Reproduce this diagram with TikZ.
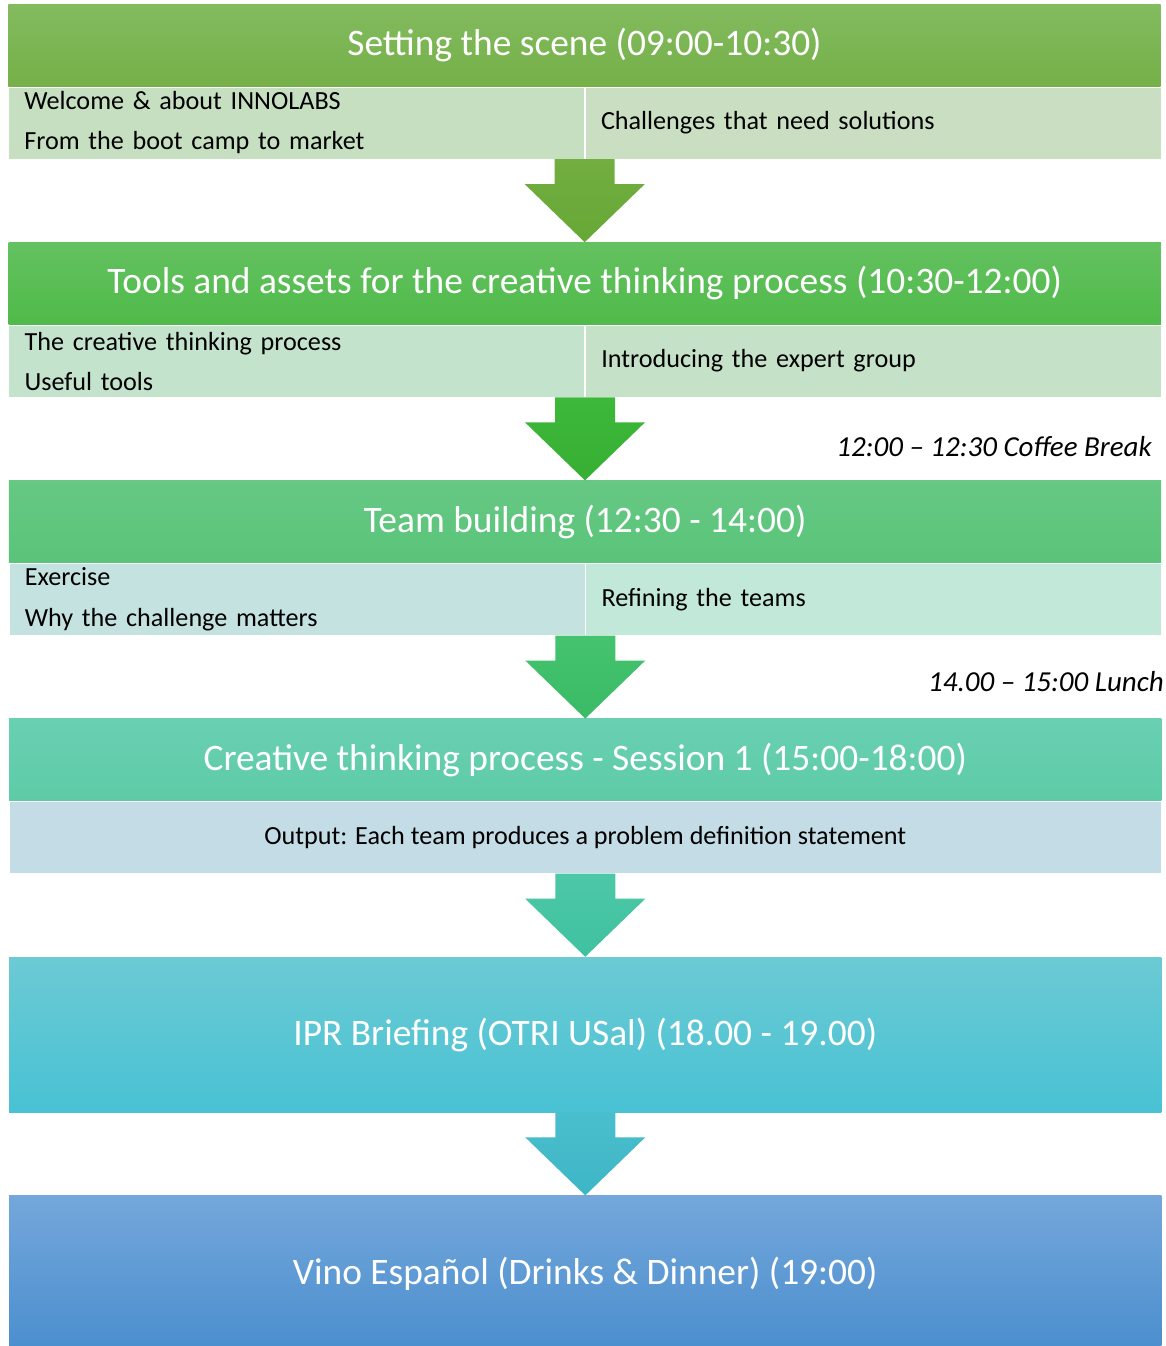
\documentclass[tikz,border=0pt]{standalone}
\usepackage{fontspec}
\setmainfont{Carlito}
\usetikzlibrary{positioning, calc}
\definecolor{sceneTop}{HTML}{83BB5F}
\definecolor{sceneBot}{HTML}{75B048}
\definecolor{toolsTop}{HTML}{64C160}
\definecolor{toolsBot}{HTML}{4FBB4A}
\definecolor{teamTop}{HTML}{66C883}
\definecolor{teamBot}{HTML}{5AC47A}
\definecolor{sessTop}{HTML}{69D0B2}
\definecolor{sessBot}{HTML}{5ECBA6}
\definecolor{iprTop}{HTML}{6CCAD4}
\definecolor{iprBot}{HTML}{48C2D4}
\definecolor{vinoTop}{HTML}{74A7DB}
\definecolor{vinoBot}{HTML}{4A8ECE}
\definecolor{cellA}{HTML}{C5DFC0}
\definecolor{cellB}{HTML}{CADFC2}
\definecolor{cellC}{HTML}{C3E3CC}
\definecolor{cellD}{HTML}{C5E1C7}
\definecolor{cellE}{HTML}{C3E2E0}
\definecolor{cellF}{HTML}{C2E8DA}
\definecolor{cellG}{HTML}{C4DCE6}
\definecolor{arrA}{HTML}{72AE40}
\definecolor{arrAb}{HTML}{66A836}
\definecolor{arrB}{HTML}{3EB83B}
\definecolor{arrBb}{HTML}{36AF33}
\definecolor{arrC}{HTML}{45C36F}
\definecolor{arrCb}{HTML}{3BBB66}
\definecolor{arrD}{HTML}{4DC8A7}
\definecolor{arrDb}{HTML}{3FC19F}
\definecolor{arrE}{HTML}{4ABECC}
\definecolor{arrEb}{HTML}{3EB6C6}

% block arrow from a point on a row bottom to the next header
\newcommand{\blockarrow}[4]{%
  \shade[top color=#3, bottom color=#4]
    ($(#1)+(-30,0)$) -- ($(#1)+(-30,25)$) -- ($(#1)+(-60,25)$) -- (#2.north)
    -- ($(#1)+(60,25)$) -- ($(#1)+(30,25)$) -- ($(#1)+(30,0)$) -- cycle;}

\begin{document}
\begin{tikzpicture}[
  x=0.025cm, y=-0.025cm,
  head/.style 2 args={rectangle, top color=#1, bottom color=#2, minimum width=28.8cm, minimum height=2.05cm, inner sep=0pt, text=white, font=\fontsize{26.6}{30}\selectfont},
  cell/.style={rectangle, fill=#1, draw=white, line width=0.4pt, minimum width=14.4cm, minimum height=1.8cm, text width=13.6cm, inner xsep=0.4cm, inner ysep=0pt, align=left, font=\fontsize{18.6}{28.5}\selectfont},
  wide/.style={rectangle, fill=#1, draw=white, line width=0.4pt, minimum width=28.8cm, minimum height=1.8cm, inner sep=0pt, font=\fontsize{18.6}{22}\selectfont},
  pause/.style={font=\fontsize{20.6}{24}\selectfont\itshape, inner sep=0pt}
]
  \useasboundingbox (0,0) rectangle (1165,1346);

  % Setting the scene
  \node[head={sceneTop}{sceneBot}, anchor=north west] (scene) at (8,4) {Setting the scene (09:00-10:30)};
  \node[cell=cellA, below right=0pt and 0pt of scene.south west] (sceneL) {Welcome \& about INNOLABS\\From the boot camp to market};
  \node[cell=cellB, right=0pt of sceneL] (sceneR) {Challenges that need solutions};

  % Tools and assets
  \node[head={toolsTop}{toolsBot}, below=2.075cm of sceneL.south east] (tools) {Tools and assets for the creative thinking process (10:30-12:00)};
  \node[cell=cellC, below right=0pt and 0pt of tools.south west] (toolsL) {The creative thinking process\\Useful tools};
  \node[cell=cellD, right=0pt of toolsL] (toolsR) {Introducing the expert group};

  % Team building
  \node[head={teamTop}{teamBot}, below=2.075cm of toolsL.south east] (team) {Team building (12:30 - 14:00)};
  \node[cell=cellE, below right=0pt and 0pt of team.south west] (teamL) {Exercise\\Why the challenge matters};
  \node[cell=cellF, right=0pt of teamL] (teamR) {Refining the teams};

  % Session 1
  \node[head={sessTop}{sessBot}, below=2.075cm of teamL.south east] (sess) {Creative thinking process - Session 1 (15:00-18:00)};
  \node[wide=cellG, below=0pt of sess] (output) {Output: Each team produces a problem definition statement};

  % IPR briefing and dinner
  \node[head={iprTop}{iprBot}, minimum height=3.875cm, below=2.075cm of output] (ipr) {IPR Briefing (OTRI USal) (18.00 - 19.00)};
  \node[head={vinoTop}{vinoBot}, minimum height=3.9cm, below=2.075cm of ipr] (vino) {Vino Español (Drinks \& Dinner) (19:00)};

  % Breaks
  \node[pause, anchor=east] (coffee) at (1152,447) {12:00 – 12:30 Coffee Break};
  \node[pause, anchor=east] (lunch) at (1164,682) {14.00 – 15:00 Lunch};

  % Block arrows
  \blockarrow{sceneL.south east}{tools}{arrA}{arrAb}
  \blockarrow{toolsL.south east}{team}{arrB}{arrBb}
  \blockarrow{teamL.south east}{sess}{arrC}{arrCb}
  \blockarrow{output.south}{ipr}{arrD}{arrDb}
  \blockarrow{ipr.south}{vino}{arrE}{arrEb}
\end{tikzpicture}
\end{document}
